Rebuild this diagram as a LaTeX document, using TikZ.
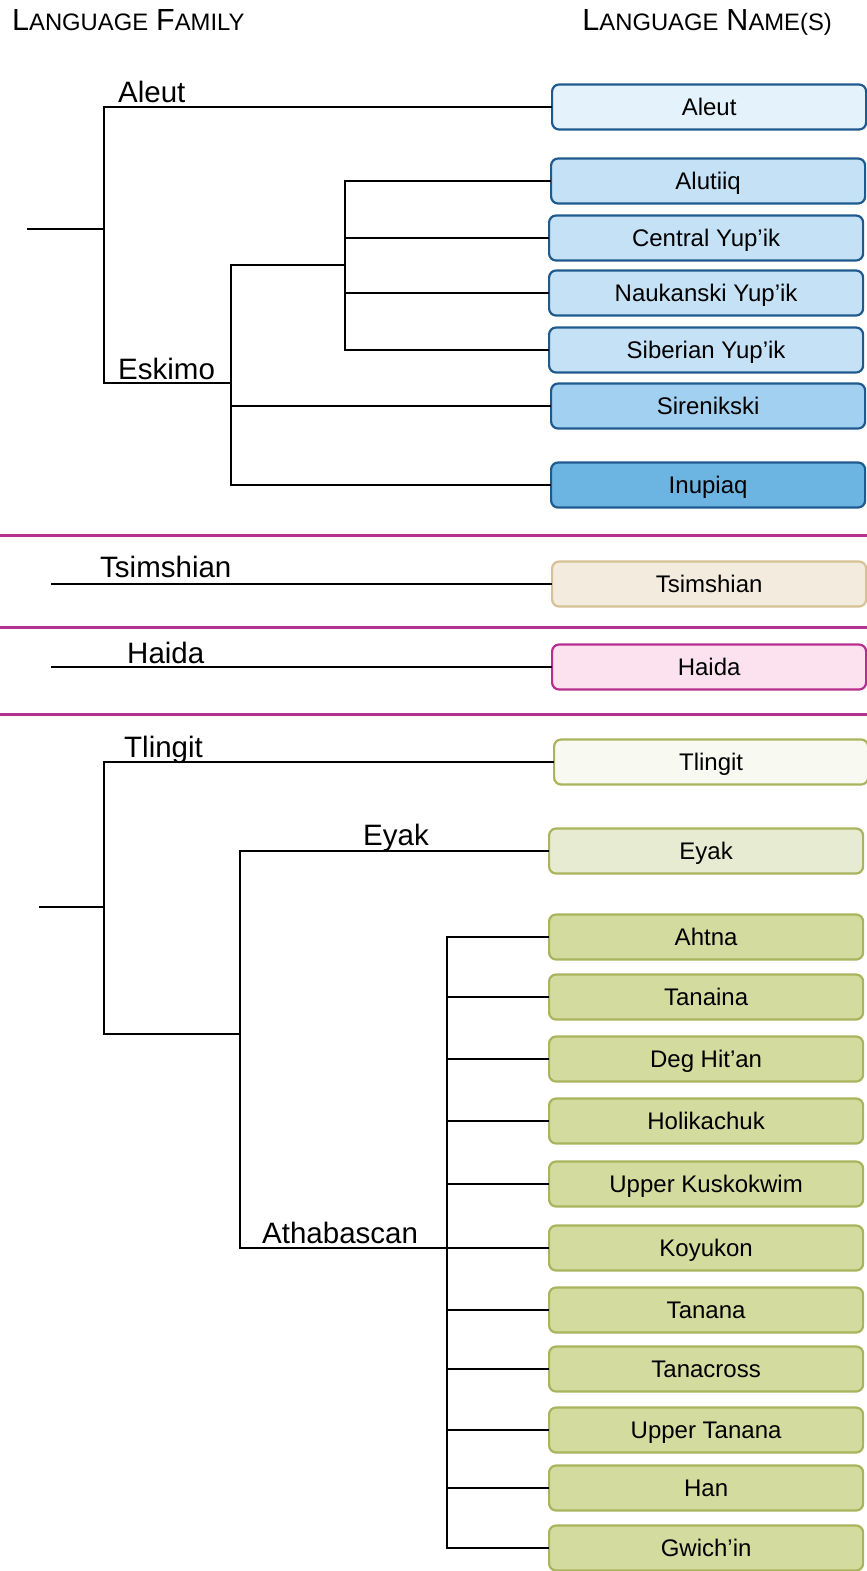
\documentclass[tikz,border=0pt]{standalone}
\usepackage{fontspec}
\setmainfont{Liberation Sans}
\definecolor{bstroke}{HTML}{1E5A8E}
\definecolor{fAleut}{HTML}{E4F3FB}
\definecolor{fYup}{HTML}{C4E1F5}
\definecolor{fSir}{HTML}{A2D0F0}
\definecolor{fInu}{HTML}{6CB4E2}
\definecolor{tsStroke}{HTML}{D6C294}
\definecolor{tsFill}{HTML}{F2EBDE}
\definecolor{haStroke}{HTML}{B72E8E}
\definecolor{haFill}{HTML}{FBE2EE}
\definecolor{oStroke}{HTML}{A9B45C}
\definecolor{fTli}{HTML}{F8F9F0}
\definecolor{fEyak}{HTML}{E6EBD1}
\definecolor{fAth}{HTML}{D3DB9F}
\definecolor{sepc}{HTML}{B5318F}
\newcommand{\BigC}[1]{{\fontsize{30.5}{32}\selectfont #1}}
\newcommand{\SmC}[1]{{\fontsize{23.8}{25}\selectfont #1}}
\begin{document}
\begin{tikzpicture}[x=1pt,y=-1pt,
  langbox/.style={draw, rounded corners=7pt, line width=2.2pt, minimum width=314pt, minimum height=45pt, anchor=west, inner sep=0pt, text height=17.2pt, text depth=0pt, font=\fontsize{24}{27}\selectfont},
  bluebox/.style={langbox, draw=bstroke},
  olivebox/.style={langbox, draw=oStroke},
  tree/.style={line width=2.2pt, black, line cap=rect},
  famlabel/.style={anchor=base west, inner sep=0pt, font=\fontsize{29.5}{32}\selectfont},
  sepline/.style={line width=3pt, sepc}]
\useasboundingbox (0,0) rectangle (867,1571);
% headers
\node[anchor=base west, inner sep=0pt] (h1) at (12,31) {\BigC{L}\SmC{ANGUAGE}\hspace{8pt}\BigC{F}\SmC{AMILY}};
\node[anchor=base east, inner sep=0pt] (h2) at (832,31) {\BigC{L}\SmC{ANGUAGE}\hspace{8pt}\BigC{N}\SmC{AME(S)}};
% ---------- top section boxes
\node[bluebox, fill=fAleut] (bAleut) at (551,107) {Aleut};
\node[bluebox, fill=fYup] (bAlutiiq) at (550,181) {Alutiiq};
\node[bluebox, fill=fYup] (bCentral) at (548,238) {Central Yup’ik};
\node[bluebox, fill=fYup] (bNauk) at (548,293) {Naukanski Yup’ik};
\node[bluebox, fill=fYup] (bSiber) at (548,350) {Siberian Yup’ik};
\node[bluebox, fill=fSir] (bSiren) at (550,406) {Sirenikski};
\node[bluebox, fill=fInu] (bInup) at (550,485) {Inupiaq};
% tree top
\coordinate (rootA) at (28,229);
\coordinate (jA) at (104,229);
\coordinate (jEsk) at (231,383);
\coordinate (jYup) at (345,265);
\draw[tree] (rootA) -- (jA);
\draw[tree] (jA) |- (bAleut.west);
\draw[tree] (jA) |- (jEsk);
\draw[tree] (jEsk) |- (jYup);
\draw[tree] (jEsk) |- (bSiren.west);
\draw[tree] (jEsk) |- (bInup.west);
\draw[tree] (jYup) |- (bAlutiiq.west);
\draw[tree] (jYup) |- (bCentral.west);
\draw[tree] (jYup) |- (bNauk.west);
\draw[tree] (jYup) |- (bSiber.west);
\node[famlabel] (lAleut) at (118,102) {Aleut};
\node[famlabel] (lEsk) at (118,379) {Eskimo};
% separators
\draw[sepline] (0,535) -- (867,535);
\draw[sepline] (0,627) -- (867,627);
\draw[sepline] (0,714) -- (867,714);
% Tsimshian & Haida
\node[langbox, draw=tsStroke, fill=tsFill] (bTsim) at (551,584) {Tsimshian};
\node[langbox, draw=haStroke, fill=haFill] (bHaida) at (551,667) {Haida};
\coordinate (rTs) at (52,584);
\coordinate (rHa) at (52,667);
\draw[tree] (rTs) -- (bTsim.west);
\draw[tree] (rHa) -- (bHaida.west);
\node[famlabel] (lTs) at (100,577) {Tsimshian};
\node[famlabel] (lHa) at (127,663) {Haida};
% ---------- bottom section boxes
\node[olivebox, fill=fTli] (bTlingit) at (553,762) {Tlingit};
\node[olivebox, fill=fEyak] (bEyak) at (548,851) {Eyak};
\node[olivebox, fill=fAth] (bAhtna) at (548,937) {Ahtna};
\node[olivebox, fill=fAth] (bTanaina) at (548,997) {Tanaina};
\node[olivebox, fill=fAth] (bDeg) at (548,1059) {Deg Hit’an};
\node[olivebox, fill=fAth] (bHoli) at (548,1121) {Holikachuk};
\node[olivebox, fill=fAth] (bUK) at (548,1184) {Upper Kuskokwim};
\node[olivebox, fill=fAth] (bKoy) at (548,1248) {Koyukon};
\node[olivebox, fill=fAth] (bTanana) at (548,1310) {Tanana};
\node[olivebox, fill=fAth] (bTanacross) at (548,1369) {Tanacross};
\node[olivebox, fill=fAth] (bUT) at (548,1430) {Upper Tanana};
\node[olivebox, fill=fAth] (bHan) at (548,1488) {Han};
\node[olivebox, fill=fAth] (bGwich) at (548,1548) {Gwich’in};
% tree bottom
\coordinate (rootT) at (40,907);
\coordinate (jT) at (104,907);
\coordinate (jEA) at (240,1034);
\coordinate (jAth) at (447,1248);
\draw[tree] (rootT) -- (jT);
\draw[tree] (jT) |- (bTlingit.west);
\draw[tree] (jT) |- (jEA);
\draw[tree] (jEA) |- (bEyak.west);
\draw[tree] (jEA) |- (jAth);
\draw[tree] (jAth) -- (bKoy.west);
\foreach \b in {bAhtna,bTanaina,bDeg,bHoli,bUK,bTanana,bTanacross,bUT,bHan,bGwich}
  \draw[tree] (jAth) |- (\b.west);
\node[famlabel] (lTl) at (124,757) {Tlingit};
\node[famlabel] (lEy) at (363,845) {Eyak};
\node[famlabel] (lAth) at (262,1243) {Athabascan};
\end{tikzpicture}
\end{document}
